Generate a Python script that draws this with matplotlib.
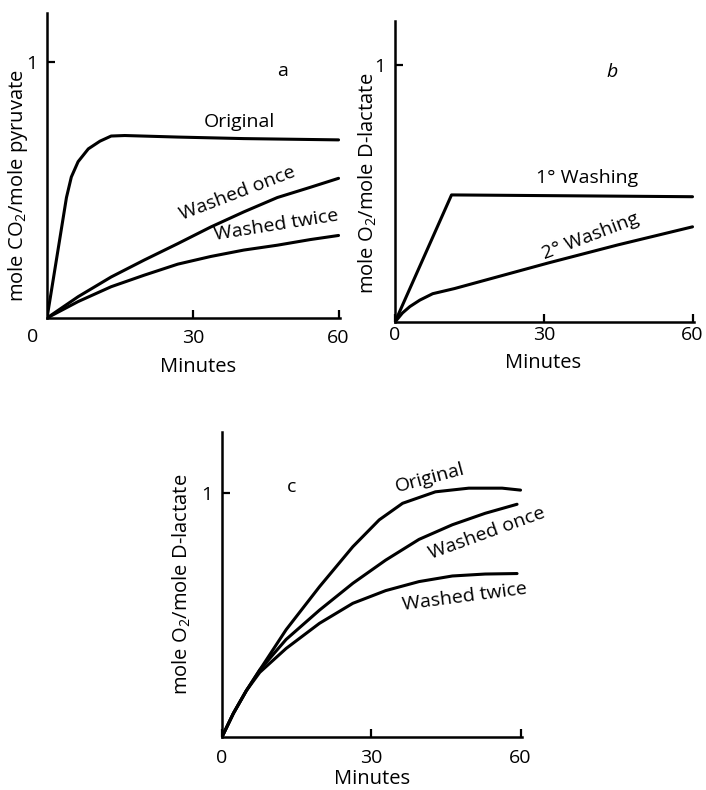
import matplotlib

matplotlib.use("Agg")
import matplotlib.pyplot as plt

plt.rcParams["font.family"] = ["Open Sans", "DejaVu Sans"]
plt.rcParams["mathtext.fontset"] = "custom"
plt.rcParams["mathtext.rm"] = "Open Sans"
plt.rcParams["mathtext.it"] = "Open Sans:italic"

# panel a: CO2 from pyruvate
a_orig_t = [0, 2.3, 4.0, 5.0, 6.4, 8.5, 10.9, 13.2, 16, 26.9, 40.5, 60]
a_orig_v = [0, 0.27, 0.47, 0.55, 0.61, 0.66, 0.69, 0.71, 0.712, 0.706, 0.70, 0.695]
a_once_t = [0, 6.4, 13.2, 20, 26.9, 33.7, 40.5, 47.4, 54.2, 60]
a_once_v = [0, 0.083, 0.16, 0.226, 0.29, 0.355, 0.414, 0.47, 0.51, 0.545]
a_twice_t = [0, 6.4, 13.2, 20, 26.9, 33.7, 40.5, 47.4, 54.2, 60]
a_twice_v = [0, 0.064, 0.122, 0.167, 0.21, 0.24, 0.265, 0.284, 0.306, 0.322]

# panel b: O2 from D-lactate, washings
b_first_t = [0, 11.4, 60]
b_first_v = [0, 0.494, 0.487]
b_second_t = [0, 1.5, 3, 5, 7.6, 12, 31, 45, 60]
b_second_v = [0, 0.035, 0.06, 0.085, 0.11, 0.13, 0.23, 0.30, 0.37]

# panel c: O2 from D-lactate
c_orig_t = [0, 2.3, 4.9, 7.6, 12.9, 19.6, 26.3, 31.6, 36.3, 42.9, 49.6, 56.3, 60]
c_orig_v = [0, 0.097, 0.19, 0.275, 0.44, 0.616, 0.78, 0.89, 0.958, 1.005, 1.02, 1.02, 1.012]
c_once_t = [0, 2.3, 4.9, 7.6, 12.9, 19.6, 26.3, 32.9, 39.6, 46.3, 52.9, 59.3]
c_once_v = [0, 0.097, 0.19, 0.275, 0.40, 0.52, 0.63, 0.725, 0.81, 0.87, 0.917, 0.954]
c_twice_t = [0, 2.3, 4.9, 7.6, 12.9, 19.6, 26.3, 32.9, 39.6, 46.3, 52.9, 59.3]
c_twice_v = [0, 0.097, 0.19, 0.265, 0.363, 0.466, 0.548, 0.60, 0.637, 0.66, 0.668, 0.67]

LW = 2.2
FS = 14
LFS = 14.5


def style_axes(ax, ytop, xpad):
    for side in ("top", "right"):
        ax.spines[side].set_visible(False)
    for side in ("left", "bottom"):
        ax.spines[side].set_linewidth(1.8)
    ax.set_xlim(0, 60.3)
    ax.set_ylim(0, ytop)
    ax.set_yticks([1])
    ax.set_yticklabels(["1"])
    ax.tick_params(direction="in", length=6, width=1.6, labelsize=FS)
    ax.tick_params(axis="y", pad=7)
    ax.tick_params(axis="x", pad=xpad)


def curve(ax, t, v):
    ax.plot(t, v, color="black", lw=LW, solid_joinstyle="round", solid_capstyle="round")


fig = plt.figure(figsize=(7.06, 7.90), dpi=100)

# a
ax = fig.add_axes([0.0666, 0.5975, 0.415, 0.386])
curve(ax, a_orig_t, a_orig_v)
curve(ax, a_once_t, a_once_v)
curve(ax, a_twice_t, a_twice_v)
style_axes(ax, 1.19, 8)
ax.set_xticks([30, 60])
ax.text(-2.9, -0.075, "0", fontsize=FS, ha="center", va="center")
ax.text(39.6, 0.763, "Original", fontsize=FS, ha="center", va="center")
ax.text(39.2, 0.485, "Washed once", fontsize=FS, ha="center", va="center", rotation=21)
ax.text(47.2, 0.36, "Washed twice", fontsize=FS, ha="center", va="center", rotation=9)
ax.text(48.5, 0.965, "a", fontsize=FS, ha="center", va="center")
ax.text(-0.098, 0.435, "mole CO$_2$/mole pyruvate", fontsize=LFS, rotation=90,
        ha="center", va="center", transform=ax.transAxes)
ax.text(0.515, -0.16, "Minutes", fontsize=LFS, ha="center", va="center", transform=ax.transAxes)

# b
ax = fig.add_axes([0.5595, 0.5924, 0.4235, 0.381])
curve(ax, b_first_t, b_first_v)
curve(ax, b_second_t, b_second_v)
style_axes(ax, 1.17, 3)
ax.set_xticks([0, 30, 60])
ax.text(38.8, 0.56, "1° Washing", fontsize=FS, ha="center", va="center")
ax.text(39.4, 0.335, "2° Washing", fontsize=FS, ha="center", va="center", rotation=21)
ax.text(43.8, 0.97, "b", fontsize=FS, ha="center", va="center", style="italic")
ax.text(-0.092, 0.46, "mole O$_2$/mole D-lactate", fontsize=LFS, rotation=90,
        ha="center", va="center", transform=ax.transAxes)
ax.text(0.495, -0.136, "Minutes", fontsize=LFS, ha="center", va="center", transform=ax.transAxes)

# c
ax = fig.add_axes([0.3144, 0.0671, 0.425, 0.386])
curve(ax, c_orig_t, c_orig_v)
curve(ax, c_once_t, c_once_v)
curve(ax, c_twice_t, c_twice_v)
style_axes(ax, 1.25, 9)
ax.set_xticks([0, 30, 60])
ax.text(41.8, 1.06, "Original", fontsize=FS, ha="center", va="center", rotation=15)
ax.text(53.2, 0.836, "Washed once", fontsize=FS, ha="center", va="center", rotation=20)
ax.text(48.8, 0.574, "Washed twice", fontsize=FS, ha="center", va="center", rotation=7.5)
ax.text(14, 1.025, "c", fontsize=FS, ha="center", va="center")
ax.text(-0.135, 0.50, "mole O$_2$/mole D-lactate", fontsize=LFS, rotation=90,
        ha="center", va="center", transform=ax.transAxes)
ax.text(0.5, -0.138, "Minutes", fontsize=LFS, ha="center", va="center", transform=ax.transAxes)

fig.savefig("out.png", dpi=100)
plt.close(fig)
